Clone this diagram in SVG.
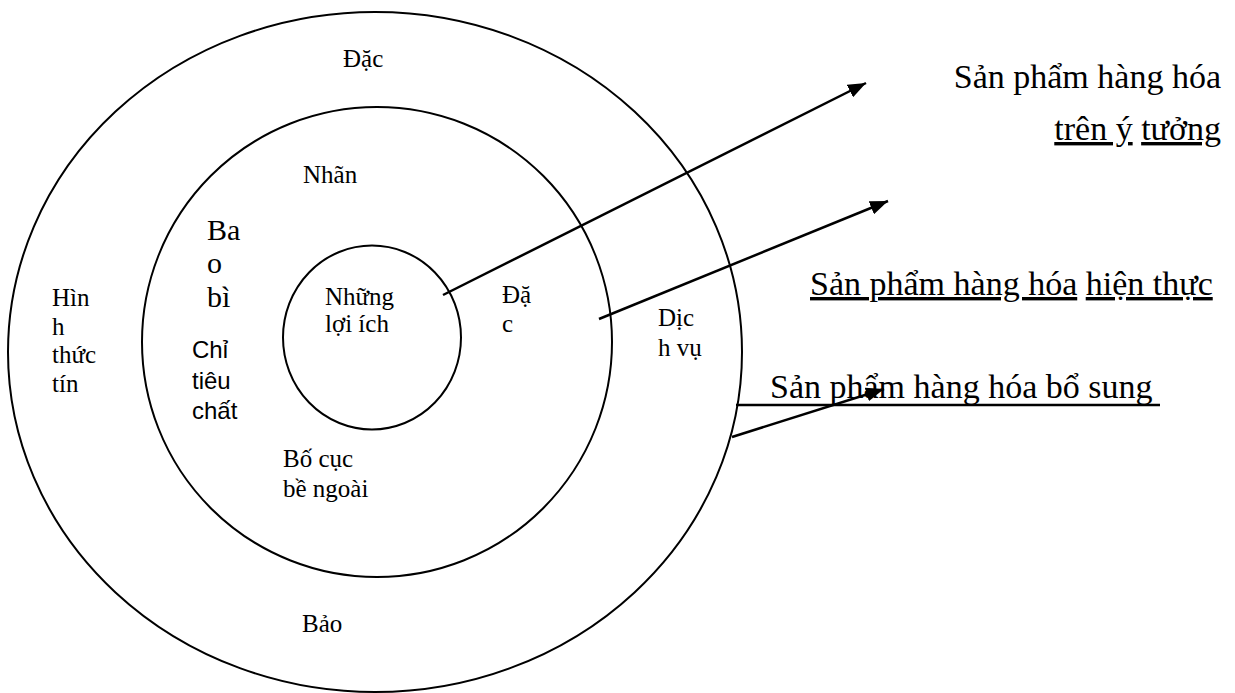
<svg xmlns="http://www.w3.org/2000/svg" width="1235" height="693" viewBox="0 0 1235 693">
<style>
.ring{fill:none;stroke:#000;stroke-width:2}
.conn{stroke:#000;stroke-width:2.5;fill:none}
.s{font-family:"Liberation Serif","Times New Roman",serif;font-size:25px;fill:#000}
.a{font-family:"Liberation Sans",Arial,sans-serif;font-size:24px;fill:#000}
.big{font-family:"Liberation Serif","Times New Roman",serif;font-size:34px;fill:#000}
.mid{font-family:"Liberation Serif","Times New Roman",serif;font-size:30px;fill:#000}
.u{text-decoration:underline;text-decoration-skip-ink:none}
</style>
<defs>
<marker id="ah" markerWidth="20" markerHeight="14" refX="18" refY="7" orient="auto" markerUnits="userSpaceOnUse">
<path d="M0,0 L18,7 L0,14 Z" fill="#000"/>
</marker>
</defs>
<rect width="1235" height="693" fill="#fff"/>
<g id="outer-ring">
<ellipse class="ring" cx="375" cy="352" rx="367" ry="340"/>
<text class="s" x="343" y="67">Đặc</text>
<text class="s" x="52" y="306">Hìn</text>
<text class="s" x="52" y="335">h</text>
<text class="s" x="52" y="363">thức</text>
<text class="s" x="52" y="392">tín</text>
<text class="s" x="658" y="326">Dịc</text>
<text class="s" x="658" y="356">h vụ</text>
<text class="s" x="302" y="632">Bảo</text>
</g>
<g id="middle-ring">
<circle class="ring" cx="377" cy="342" r="235"/>
<text class="s" x="303" y="183">Nhãn</text>
<text class="mid" x="207" y="240">Ba</text>
<text class="mid" x="207" y="273">o</text>
<text class="mid" x="207" y="307">bì</text>
<text class="a" x="192" y="358">Chỉ</text>
<text class="a" x="192" y="389">tiêu</text>
<text class="a" x="192" y="419">chất</text>
<text class="s" x="502" y="303">Đặ</text>
<text class="s" x="502" y="332">c</text>
<text class="s" x="283" y="467">Bố cục</text>
<text class="s" x="283" y="497">bề ngoài</text>
</g>
<g id="inner-ring">
<ellipse class="ring" cx="372" cy="337.5" rx="89" ry="92"/>
<text class="s" x="325" y="305">Những</text>
<text class="s" x="325" y="332">lợi ích</text>
</g>
<g id="label-idea">
<text class="big" x="1221" y="88" text-anchor="end">Sản phẩm hàng hóa</text>
<text class="big" x="1221" y="140" text-anchor="end"><tspan class="u">trên ý</tspan> <tspan class="u">tưởng</tspan></text>
</g>
<g id="label-real">
<text class="big" x="810" y="295"><tspan class="u">Sản phẩm hàng hóa</tspan> <tspan class="u">hiện thực</tspan></text>
</g>
<g id="label-added">
<text class="big" x="770" y="398">Sản phẩm hàng hóa bổ sung</text>
</g>
<g id="connectors">
<line class="conn" x1="443" y1="295" x2="866" y2="83" marker-end="url(#ah)"/>
<line class="conn" x1="599" y1="319" x2="888" y2="201" marker-end="url(#ah)"/>
<line class="conn" x1="732" y1="437" x2="884" y2="389" marker-end="url(#ah)"/>
<line class="conn" x1="736" y1="405" x2="1160" y2="405"/>
</g>
</svg>
